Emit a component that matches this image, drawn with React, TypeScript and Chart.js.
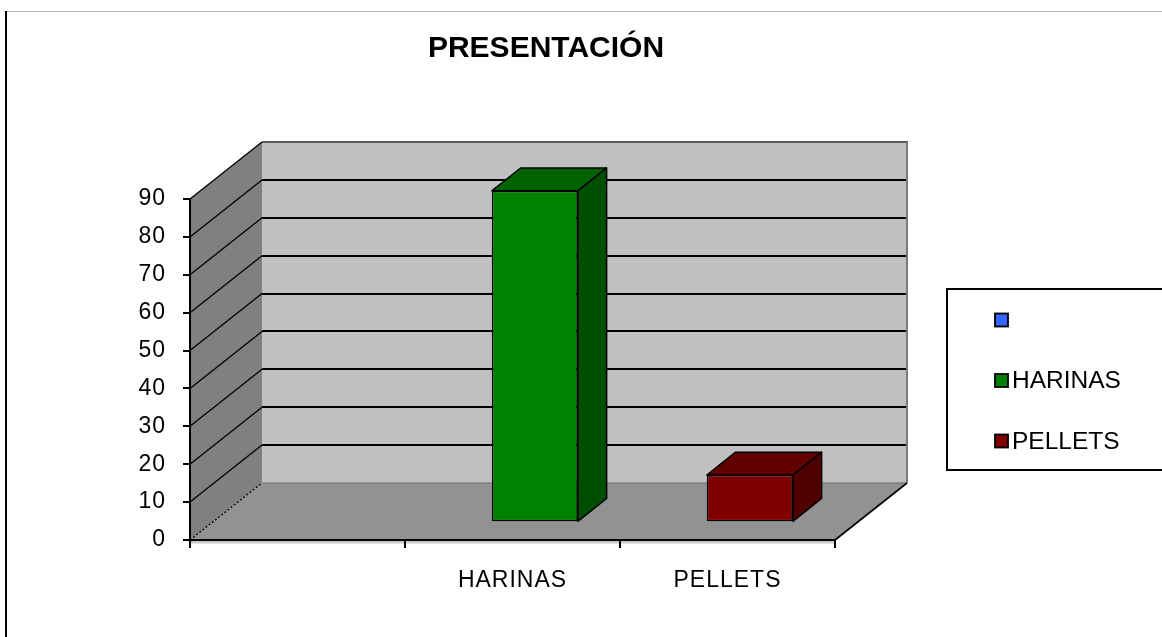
import { useEffect, useRef } from "react";
import { Chart, registerables } from "chart.js";

Chart.register(...registerables);

// ---- data ----
const categories: string[] = ["", "HARINAS", "PELLETS"];
const values: (number | null)[] = [null, 87.5, 12.5];
const legendLabels: string[] = ["", "HARINAS", "PELLETS"];
const Y_MIN = 0;
const Y_MAX = 90;
const Y_STEP = 10;
const chartTitle = "PRESENTACIÓN";

// ---- style ----
const frontColors = ["#3366ff", "#008000", "#800000"];
const topColors = ["#2244cc", "#006300", "#620000"];
const sideColors = ["#1a3399", "#004f00", "#4f0000"];
const FONT = "'Liberation Sans', Arial, Helvetica, sans-serif";

export default function App() {
  const ref = useRef<HTMLCanvasElement>(null);

  useEffect(() => {
    const canvas = ref.current;
    if (!canvas) return;
    const DX = 72;
    const DY = -57;
    const F1 = 0.31;
    const F2 = 0.71;

    const threeD = {
      id: "threeD",
      beforeDraw(chart: any) {
        const { ctx, chartArea: a, scales } = chart;
        const ys = scales.y;
        const x0 = a.left;
        const x1 = a.right;
        const yb = ys.getPixelForValue(Y_MIN);
        const yt = ys.getPixelForValue(Y_MAX);
        ctx.save();
        ctx.letterSpacing = "0px";

        // outer frame
        ctx.fillStyle = "#b4b4b4";
        ctx.fillRect(6, 11, 1200, 1);
        ctx.fillStyle = "#000";
        ctx.fillRect(5, 11, 2, 700);

        // back wall
        ctx.fillStyle = "#c0c0c0";
        ctx.fillRect(x0 + DX, yt + DY, x1 - x0, yb - yt);

        // side wall
        ctx.fillStyle = "#808080";
        ctx.beginPath();
        ctx.moveTo(x0, yb);
        ctx.lineTo(x0 + DX, yb + DY);
        ctx.lineTo(x0 + DX, yt + DY);
        ctx.lineTo(x0, yt);
        ctx.closePath();
        ctx.fill();

        // floor
        ctx.fillStyle = "#929292";
        ctx.beginPath();
        ctx.moveTo(x0, yb);
        ctx.lineTo(x1, yb);
        ctx.lineTo(x1 + DX, yb + DY);
        ctx.lineTo(x0 + DX, yb + DY);
        ctx.closePath();
        ctx.fill();

        // floor thickness band
        ctx.fillStyle = "#c8c8c8";
        ctx.fillRect(x0, yb + 1, x1 - x0, 2.5);

        // back wall gridlines
        for (let v = Y_MIN + Y_STEP; v < Y_MAX; v += Y_STEP) {
          const py = Math.round(ys.getPixelForValue(v) + DY);
          ctx.strokeStyle = "#000";
          ctx.lineWidth = 2;
          ctx.beginPath();
          ctx.moveTo(x0 + DX, py);
          ctx.lineTo(x1 + DX, py);
          ctx.stroke();
        }
        // back top edge
        ctx.strokeStyle = "#5a5a5a";
        ctx.lineWidth = 2;
        ctx.beginPath();
        ctx.moveTo(x0 + DX, yt + DY);
        ctx.lineTo(x1 + DX + 1, yt + DY);
        ctx.stroke();
        // back right edge
        ctx.strokeStyle = "#7a7a7a";
        ctx.beginPath();
        ctx.moveTo(x1 + DX, yt + DY);
        ctx.lineTo(x1 + DX, yb + DY);
        ctx.stroke();
        // floor back edge
        ctx.strokeStyle = "#6a6a6a";
        ctx.lineWidth = 1;
        ctx.beginPath();
        ctx.moveTo(x0 + DX, yb + DY);
        ctx.lineTo(x1 + DX, yb + DY);
        ctx.stroke();

        // side wall gridlines
        for (let v = Y_MIN; v <= Y_MAX; v += Y_STEP) {
          const py = ys.getPixelForValue(v);
          ctx.strokeStyle = "#000";
          ctx.lineWidth = 1.3;
          ctx.setLineDash(v === Y_MIN ? [2, 2] : []);
          ctx.beginPath();
          ctx.moveTo(x0, py);
          ctx.lineTo(x0 + DX, py + DY);
          ctx.stroke();
        }
        ctx.setLineDash([]);

        // floor right edge
        ctx.strokeStyle = "#000";
        ctx.lineWidth = 1.6;
        ctx.beginPath();
        ctx.moveTo(x1, yb);
        ctx.lineTo(x1 + DX, yb + DY);
        ctx.stroke();

        ctx.restore();
        ctx.letterSpacing = "1px";
      },
      beforeDatasetsDraw(chart: any) {
        chart.ctx.save();
        chart.ctx.translate(F1 * DX, F1 * DY);
      },
      afterDatasetsDraw(chart: any) {
        const ctx = chart.ctx;
        ctx.restore();
        const meta = chart.getDatasetMeta(0);
        const ddx = (F2 - F1) * DX;
        const ddy = (F2 - F1) * DY;
        meta.data.forEach((el: any, i: number) => {
          if (values[i] == null) return;
          const p = el.getProps(["x", "y", "base", "width"], true);
          const l = p.x - p.width / 2 + F1 * DX;
          const r = p.x + p.width / 2 + F1 * DX;
          const t = p.y + F1 * DY;
          const b = p.base + F1 * DY;
          ctx.save();
          ctx.lineWidth = 1.5;
          ctx.strokeStyle = "#000";
          ctx.lineJoin = "round";
          // top
          ctx.fillStyle = topColors[i];
          ctx.beginPath();
          ctx.moveTo(l, t);
          ctx.lineTo(r, t);
          ctx.lineTo(r + ddx, t + ddy);
          ctx.lineTo(l + ddx, t + ddy);
          ctx.closePath();
          ctx.fill();
          ctx.stroke();
          // side
          ctx.fillStyle = sideColors[i];
          ctx.beginPath();
          ctx.moveTo(r, t);
          ctx.lineTo(r + ddx, t + ddy);
          ctx.lineTo(r + ddx, b + ddy);
          ctx.lineTo(r, b);
          ctx.closePath();
          ctx.fill();
          ctx.stroke();
          ctx.restore();
        });
      },
      afterDraw(chart: any) {
        const ctx = chart.ctx;
        ctx.save();
        ctx.letterSpacing = "0px";
        // title
        ctx.fillStyle = "#000";
        ctx.font = `bold 30px ${FONT}`;
        ctx.textAlign = "center";
        ctx.textBaseline = "alphabetic";
        ctx.fillText(chartTitle, 546, 57);

        // legend
        ctx.strokeStyle = "#000";
        ctx.lineWidth = 2;
        ctx.strokeRect(947, 289, 260, 181);
        ctx.font = `24.5px ${FONT}`;
        ctx.textAlign = "left";
        ctx.textBaseline = "middle";
        legendLabels.forEach((lab, i) => {
          const cy = 320 + i * 60.5;
          ctx.fillStyle = frontColors[i];
          ctx.fillRect(995, cy - 6.5, 13, 13);
          ctx.lineWidth = 1.8;
          ctx.strokeRect(995, cy - 6.5, 13, 13);
          ctx.fillStyle = "#000";
          ctx.fillText(lab, 1012, cy + 1);
        });
        ctx.restore();
        ctx.letterSpacing = "0px";
      },
    };

    const chart = new Chart(canvas, {
      type: "bar",
      data: {
        labels: categories,
        datasets: [
          {
            label: "PRESENTACIÓN",
            data: values as any,
            backgroundColor: frontColors,
            borderColor: "#000",
            borderWidth: 1.5,
            borderSkipped: false,
            barPercentage: 0.4,
            categoryPercentage: 1,
            clip: false as any,
          },
        ],
      },
      options: {
        animation: false,
        responsive: true,
        maintainAspectRatio: false,
        layout: { padding: { top: 199, right: 327, left: 0, bottom: 0 } },
        plugins: {
          legend: { display: false },
          title: { display: false },
          tooltip: { enabled: false },
        },
        scales: {
          x: {
            type: "category",
            offset: true,
            grid: {
              offset: true,
              drawOnChartArea: false,
              drawTicks: true,
              tickLength: 8,
              color: "#000",
              lineWidth: 2,
            },
            border: { display: true, color: "#000", width: 2 },
            ticks: {
              color: "#000",
              font: { family: FONT, size: 23 },
              padding: 19,
              maxRotation: 0,
              autoSkip: false,
            },
            afterFit: (s: any) => {
              s.height = 97;
            },
          },
          y: {
            type: "linear",
            min: Y_MIN,
            max: Y_MAX,
            grid: {
              drawOnChartArea: false,
              drawTicks: true,
              tickLength: 7,
              color: "#000",
              lineWidth: 2,
            },
            border: { display: true, color: "#000", width: 2 },
            ticks: {
              stepSize: Y_STEP,
              color: "#000",
              font: { family: FONT, size: 23 },
              padding: 17,
            },
            afterFit: (s: any) => {
              s.width = 190;
            },
          },
        },
      },
      plugins: [threeD],
    });

    return () => chart.destroy();
  }, []);

  return (
    <div
      style={{
        position: "fixed",
        left: 0,
        top: 0,
        width: 1162,
        height: 637,
        background: "#fff",
      }}
    >
      <canvas ref={ref} />
    </div>
  );
}
